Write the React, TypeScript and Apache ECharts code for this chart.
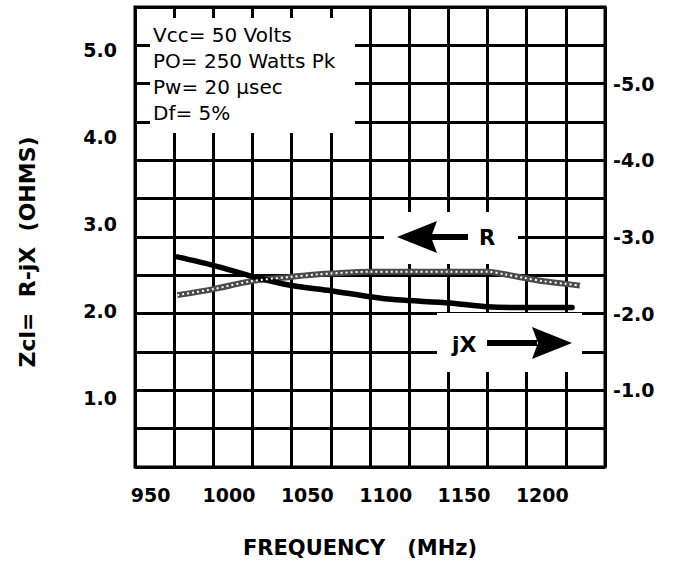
import React, { useEffect, useRef } from "react";
import * as echarts from "echarts";

// Frequency (MHz) axis
const xMin = 940;
const xMax = 1240;
const xStep = 25;
const xTickLabels = [950, 1000, 1050, 1100, 1150, 1200];

// Left axis (R, ohms) tick labels
const leftTickLabels = [1, 2, 3, 4, 5];
// Right axis (jX, ohms)
const rightMin = -6;
const rightMax = 0;
const rightStep = 0.5;

// R curve (left axis)
const rFreq = [967, 990, 1014, 1039, 1057, 1065, 1090, 1107, 1141, 1165, 1176, 1188, 1201, 1215, 1224];
const rValues = [2.18, 2.25, 2.34, 2.39, 2.42, 2.43, 2.45, 2.45, 2.45, 2.45, 2.42, 2.38, 2.34, 2.31, 2.29];

// jX curve (right axis)
const jxFreq = [967, 990, 1014, 1039, 1065, 1090, 1107, 1141, 1165, 1190, 1219];
const jxValues = [-2.74, -2.63, -2.49, -2.37, -2.3, -2.22, -2.18, -2.14, -2.09, -2.08, -2.08];

const conditions = ["Vcc= 50 Volts", "PO= 250 Watts Pk", "Pw= 20 \u00b5sec", "Df= 5%"];

const BOLD = "DejaVu Sans";

export default function App() {
  const ref = useRef<HTMLDivElement>(null);
  useEffect(() => {
    if (!ref.current) return;
    const chart = echarts.init(ref.current, undefined, { renderer: "svg" });
    const rData = rFreq.map((f, i) => [f, rValues[i]]);
    const jxData = jxFreq.map((f, i) => [f, jxValues[i]]);
    const labelFont = { fontFamily: BOLD, fontWeight: "bold" as const, fontSize: 19, color: "#000" };

    const graphics: any[] = [
      // white label boxes
      { type: "rect", shape: { x: 150, y: 18, width: 205, height: 115 }, style: { fill: "#fff" }, z: 1 },
      { type: "rect", shape: { x: 384, y: 212, width: 134, height: 52 }, style: { fill: "#fff" }, z: 1 },
      { type: "rect", shape: { x: 437, y: 313, width: 145, height: 59 }, style: { fill: "#fff" }, z: 1 },
      // R arrow
      { type: "polygon", shape: { points: [[397, 237], [437, 221], [431, 237], [437, 253]] }, style: { fill: "#000" }, z: 5 },
      { type: "rect", shape: { x: 430, y: 234, width: 38, height: 6 }, style: { fill: "#000" }, z: 5 },
      { type: "text", x: 479, y: 238, style: { text: "R", fill: "#000", fontFamily: BOLD, fontWeight: "bold", fontSize: 21, align: "left", verticalAlign: "middle", textAlign: "left", textVerticalAlign: "middle" }, z: 5 },
      // jX arrow
      { type: "polygon", shape: { points: [[572, 343], [532, 327], [538, 343], [532, 359]] }, style: { fill: "#000" }, z: 5 },
      { type: "rect", shape: { x: 487, y: 340, width: 50, height: 6 }, style: { fill: "#000" }, z: 5 },
      { type: "text", x: 452, y: 344, style: { text: "jX", fill: "#000", fontFamily: BOLD, fontWeight: "bold", fontSize: 22, align: "left", verticalAlign: "middle", textAlign: "left", textVerticalAlign: "middle" }, z: 5 },
      // y axis title
      { type: "text", x: 27, y: 252, rotation: Math.PI / 2, style: { text: "Zcl=  R-jX  (OHMS)", fill: "#000", fontFamily: BOLD, fontWeight: "bold", fontSize: 22, align: "center", verticalAlign: "middle", textAlign: "center", textVerticalAlign: "middle" }, z: 5 },
    ];
    conditions.forEach((t, i) => {
      graphics.push({
        type: "text",
        x: 153,
        y: 35 + i * 26,
        style: { text: t, fill: "#000", fontFamily: "DejaVu Sans", fontSize: 20, align: "left", verticalAlign: "middle", textAlign: "left", textVerticalAlign: "middle" },
        z: 5,
      });
    });

    chart.setOption({
      animation: false,
      backgroundColor: "#fff",
      grid: { left: 135, right: 70, top: 7, bottom: 91, show: true, borderColor: "#000", borderWidth: 3, backgroundColor: "transparent" },
      xAxis: {
        type: "value",
        min: xMin,
        max: xMax,
        interval: xStep,
        name: "FREQUENCY   (MHz)",
        nameLocation: "middle",
        nameGap: 70,
        nameTextStyle: { fontFamily: BOLD, fontWeight: "bold", fontSize: 21, color: "#000", padding: [0, 20, 0, 0] },
        axisLine: { show: false },
        axisTick: { show: false },
        splitLine: { show: true, lineStyle: { color: "#000", width: 3 } },
        axisLabel: { ...labelFont, margin: 18, customValues: xTickLabels, formatter: (v: number) => String(v) },
      },
      yAxis: [
        {
          type: "value",
          min: 0.2,
          max: 5.5,
          position: "left",
          axisLine: { show: false },
          axisTick: { show: false },
          splitLine: { show: false },
          axisLabel: { ...labelFont, margin: 18, customValues: leftTickLabels, formatter: (v: number) => v.toFixed(1) },
        },
        {
          type: "value",
          min: rightMin,
          max: rightMax,
          interval: rightStep,
          inverse: true,
          position: "right",
          axisLine: { show: false },
          axisTick: { show: false },
          splitLine: { show: true, lineStyle: { color: "#000", width: 3 } },
          axisLabel: {
            ...labelFont,
            margin: 8,
            formatter: (v: number) => (Number.isInteger(v) && v > rightMin && v < rightMax ? v.toFixed(1) : ""),
          },
        },
      ],
      series: [
        {
          name: "R",
          type: "line",
          yAxisIndex: 0,
          data: rData,
          smooth: 0.3,
          showSymbol: false,
          lineStyle: { color: "#4a4a4a", width: 6 },
          z: 3,
        },
        {
          name: "R texture",
          type: "line",
          yAxisIndex: 0,
          data: rData,
          smooth: 0.3,
          showSymbol: false,
          lineStyle: { color: "#fff", width: 2, type: [2, 3] },
          z: 4,
        },
        {
          name: "jX",
          type: "line",
          yAxisIndex: 1,
          data: jxData,
          smooth: 0.3,
          showSymbol: false,
          lineStyle: { color: "#000", width: 5.5, cap: "round" },
          z: 3,
        },
      ],
      graphic: graphics,
    });
    return () => chart.dispose();
  }, []);
  return <div ref={ref} style={{ position: "absolute", left: 0, top: 0, width: 675, height: 563 }} />;
}
